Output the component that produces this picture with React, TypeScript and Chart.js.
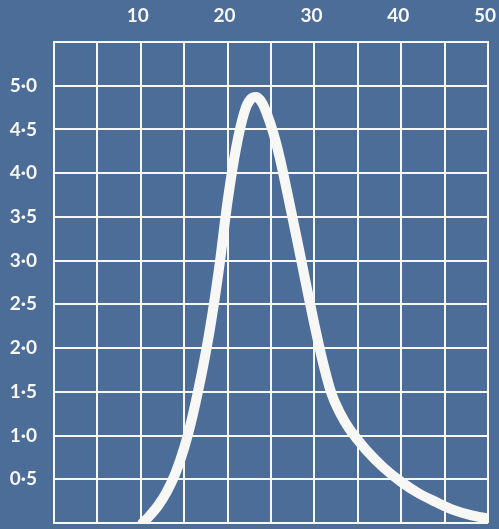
import React, { useEffect, useRef } from "react";
import { Chart, registerables } from "chart.js";

Chart.register(...registerables);

// Curve points
const xValues = [10.2, 11, 12, 13, 14, 15, 16, 17, 18, 19, 20, 21, 22, 22.6, 23.3, 24.0, 24.6, 25.3, 26, 27, 28, 29, 30, 31, 32, 33, 34, 35, 36, 38, 40, 42, 44, 46, 48, 50];
const yValues = [0, 0.08, 0.2, 0.36, 0.57, 0.86, 1.24, 1.7, 2.24, 2.9, 3.68, 4.3, 4.72, 4.84, 4.87, 4.8, 4.66, 4.45, 4.18, 3.72, 3.24, 2.75, 2.27, 1.83, 1.47, 1.25, 1.08, 0.95, 0.83, 0.63, 0.47, 0.34, 0.24, 0.15, 0.09, 0.05];

// Axis definitions
const xMin = 0;
const xMax = 50;
const xStep = 5;
const xLabelEvery = 10;
const yMin = 0;
const yMax = 5.5;
const yStep = 0.5;
const yLabelMax = 5.0;

const BG = "#4b6d97";
const WHITE = "#f7f7f5";

export default function App() {
  const ref = useRef<HTMLCanvasElement | null>(null);

  useEffect(() => {
    document.body.style.margin = "0";
    const canvas = ref.current;
    if (!canvas) return;
    const points = xValues.map((x, i) => ({ x, y: yValues[i] }));
    const noPad = (s: any) => {
      s.paddingLeft = 0;
      s.paddingRight = 0;
      s.paddingTop = 0;
      s.paddingBottom = 0;
    };
    const chart = new Chart(canvas, {
      type: "line",
      data: {
        datasets: [
          {
            data: points,
            borderColor: WHITE,
            borderWidth: 10,
            pointRadius: 0,
            cubicInterpolationMode: "monotone",
            fill: false,
            clip: 0,
            borderCapStyle: "round",
          } as any,
        ],
      },
      options: {
        responsive: false,
        animation: false,
        layout: { padding: { left: 0, right: 11, top: 0, bottom: 6 } },
        plugins: { legend: { display: false }, tooltip: { enabled: false } },
        scales: {
          x: {
            type: "linear",
            position: "top",
            min: xMin,
            max: xMax,
            afterFit: (s: any) => {
              s.height = 42;
              noPad(s);
            },
            grid: { color: WHITE, lineWidth: 2, drawTicks: false },
            border: { display: true, color: WHITE, width: 2 },
            ticks: {
              stepSize: xStep,
              autoSkip: false,
              maxRotation: 0,
              padding: 15,
              labelOffset: -3,
              color: WHITE,
              font: { family: "Lato", weight: "bold", size: 19 },
              callback: (v: any) =>
                Number(v) > 0 && Number(v) % xLabelEvery === 0 ? String(v) : "",
            },
          },
          y: {
            type: "linear",
            min: yMin,
            max: yMax,
            afterFit: (s: any) => {
              s.width = 54;
              noPad(s);
            },
            grid: { color: WHITE, lineWidth: 2, drawTicks: false },
            border: { display: true, color: WHITE, width: 2 },
            ticks: {
              stepSize: yStep,
              autoSkip: false,
              padding: 17,
              color: WHITE,
              font: { family: "Lato", weight: "bold", size: 19 },
              callback: (v: any) => {
                const n = Number(v);
                return n > 0 && n <= yLabelMax + 0.01 ? n.toFixed(1).replace(".", "·") : "";
              },
            },
          },
        },
      },
    });
    return () => chart.destroy();
  }, []);

  return (
    <div style={{ position: "absolute", left: 0, top: 0, width: 499, height: 529, background: BG }}>
      <canvas ref={ref} width={499} height={529} style={{ display: "block" }} />
    </div>
  );
}
